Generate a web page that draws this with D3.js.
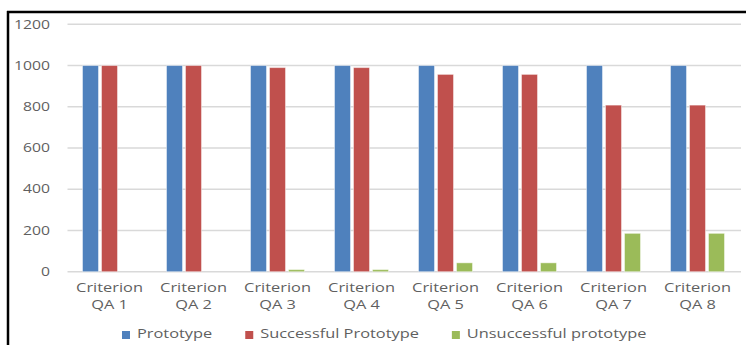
<!DOCTYPE html>
<html>
<head>
<meta charset="utf-8">
<script src="https://cdn.jsdelivr.net/npm/d3@7"></script>
<style>
  html, body { margin: 0; padding: 0; background: #fff; }
  svg { display: block; }
  text { font-family: "Open Sans", "Noto Sans", sans-serif; fill: #595959; }
</style>
</head>
<body>
<script>
// Chart data
const categories = ["Criterion QA 1", "Criterion QA 2", "Criterion QA 3", "Criterion QA 4",
                    "Criterion QA 5", "Criterion QA 6", "Criterion QA 7", "Criterion QA 8"];
const seriesNames = ["Prototype", "Successful Prototype", "Unsuccessful prototype"];
const prototype = [1000, 1000, 1000, 1000, 1000, 1000, 1000, 1000];
const successful = [1000, 1000, 990, 990, 957, 957, 808, 808];
const unsuccessful = [0, 0, 10, 10, 43, 43, 186, 186];
const yTicks = [0, 200, 400, 600, 800, 1000, 1200];
const colors = ["#4f81bd", "#c0504d", "#9bbb59"];

const W = 746, H = 345;
const plot = { left: 67.5, right: 739.5, top: 24.3, bottom: 271.7 };
const stretch = 1.26; // wide lettering of the labels

const svg = d3.select("body").append("svg").attr("width", W).attr("height", H);

// frame: top and left rule
svg.append("line").attr("x1", 7).attr("x2", W).attr("y1", 12).attr("y2", 12)
  .attr("stroke", "#000").attr("stroke-width", 2.5);
svg.append("line").attr("x1", 8).attr("x2", 8).attr("y1", 11).attr("y2", H)
  .attr("stroke", "#000").attr("stroke-width", 2.5);

const y = d3.scaleLinear().domain([0, 1200]).range([plot.bottom, plot.top]);
const x0 = d3.scaleBand().domain(categories).range([plot.left, plot.right]).padding(0);
const x1 = d3.scaleBand().domain(seriesNames)
  .range([x0.bandwidth() * 0.1786, x0.bandwidth() * 0.8214]).paddingInner(3 / 19).paddingOuter(0);

// gridlines
svg.append("g").selectAll("line").data(yTicks).join("line")
  .attr("x1", plot.left).attr("x2", plot.right + 1.5)
  .attr("y1", d => y(d)).attr("y2", d => y(d))
  .attr("stroke", "#d9d9d9").attr("stroke-width", 1.5);

// y axis labels
const yAxis = svg.append("g").attr("transform", `translate(${plot.left},0)`)
  .call(d3.axisLeft(y).tickValues(yTicks).tickSize(0).tickPadding(0).tickFormat(d3.format("d")));
yAxis.select(".domain").remove();
yAxis.selectAll("text")
  .attr("x", -17.5 / stretch)
  .attr("dy", "0.3em")
  .attr("transform", `scale(${stretch},1)`)
  .style("font-size", "12.5px").style("fill", "#5f5f5f")
  .style("font-family", "'Open Sans', sans-serif");

// bars
const rows = categories.map((c, i) => ({ cat: c, vals: [prototype[i], successful[i], unsuccessful[i]] }));
const groups = svg.append("g").selectAll("g").data(rows).join("g")
  .attr("transform", d => `translate(${x0(d.cat)},0)`);
groups.selectAll("rect")
  .data(d => d.vals.map((v, k) => ({ name: seriesNames[k], v, k })))
  .join("rect")
  .attr("x", d => x1(d.name))
  .attr("width", x1.bandwidth())
  .attr("y", d => y(d.v))
  .attr("height", d => y(0) - y(d.v))
  .attr("fill", d => colors[d.k])
  .attr("stroke", "rgba(255,255,255,0.45)")
  .attr("stroke-width", 1);

// x axis labels (two lines)
const xAxis = svg.append("g").attr("transform", `translate(0,${plot.bottom})`)
  .call(d3.axisBottom(x0).tickSize(0).tickPadding(0));
xAxis.select(".domain").remove();
xAxis.selectAll("text").each(function (d) {
  const t = d3.select(this);
  const parts = d.split(" ");
  const lines = [parts[0], parts.slice(1).join(" ")];
  t.text(null).attr("y", 0).attr("dy", null)
    .attr("transform", `scale(${stretch},1)`)
    .style("font-size", "13px").style("fill", "#5f5f5f")
    .style("font-family", "'Open Sans', sans-serif");
  lines.forEach((ln, i) => t.append("tspan").attr("x", 0).attr("y", 20.8 + i * 17).text(ln));
});

// legend
const legend = svg.append("g").attr("transform", "translate(122,0)");
let cursor = 0;
seriesNames.forEach((name, k) => {
  const item = legend.append("g").attr("transform", `translate(${cursor},0)`);
  item.append("rect").attr("x", 0).attr("y", 331).attr("width", 8).attr("height", 8).attr("fill", colors[k]);
  const txt = item.append("text").attr("x", 15 / stretch).attr("y", 338.5)
    .attr("transform", `scale(${stretch},1)`)
    .style("font-size", "13px").style("fill", "#5f5f5f").text(name);
  const w = txt.node().getComputedTextLength() * stretch;
  cursor += 15 + w + 33;
});
</script>
</body>
</html>
